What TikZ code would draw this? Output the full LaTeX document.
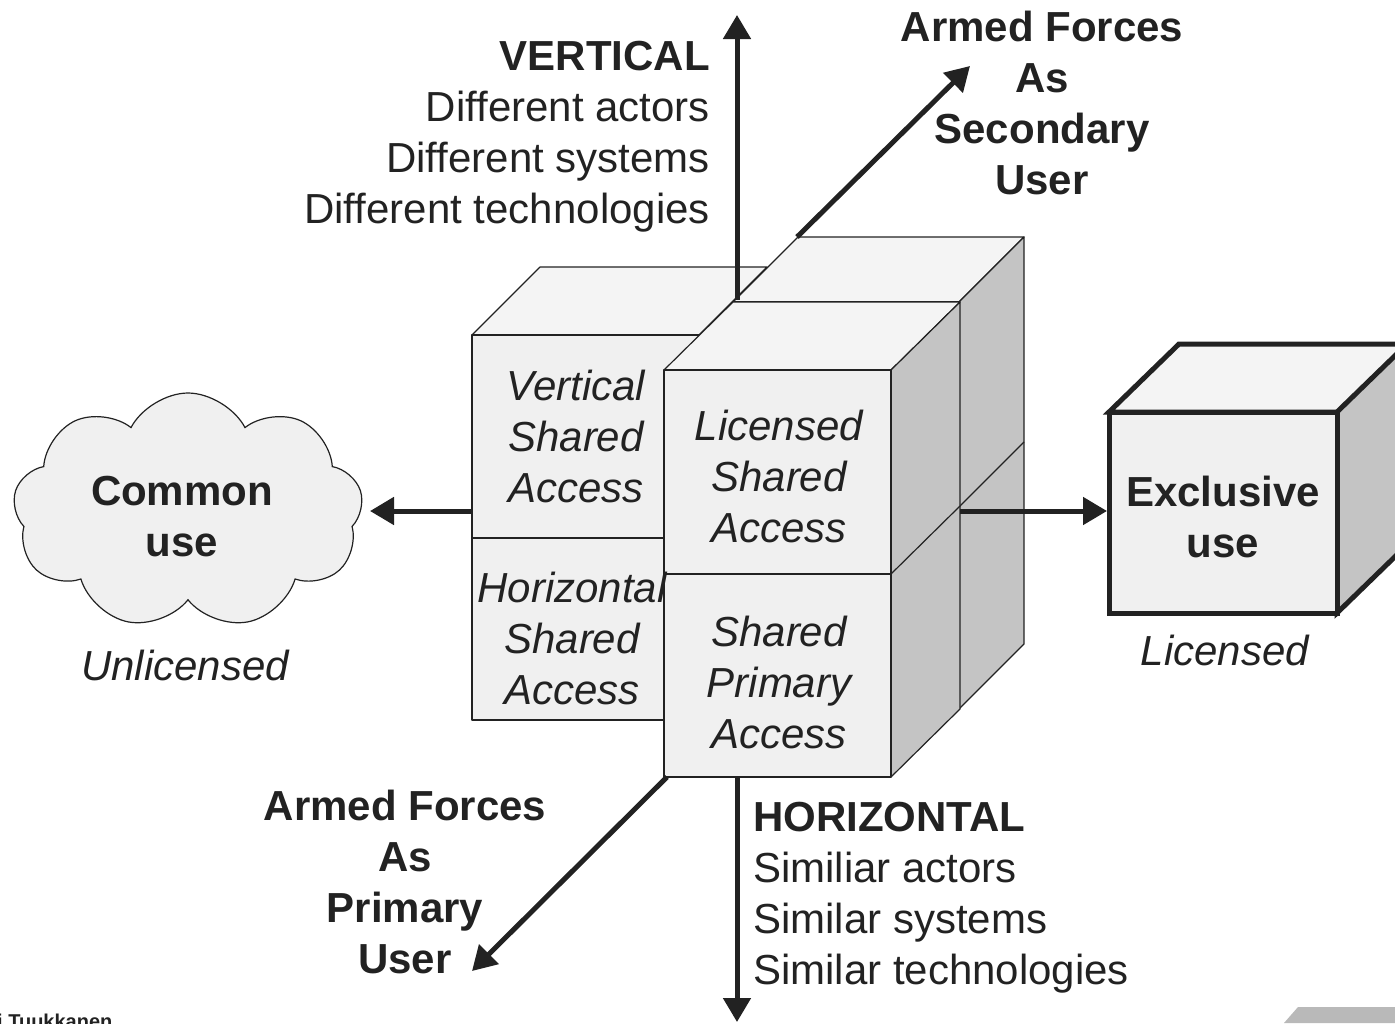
\documentclass[tikz,border=0pt]{standalone}
\usepackage{fontspec}
\setmainfont{Liberation Sans}
\usetikzlibrary{arrows.meta,shapes.symbols}

\definecolor{frontgray}{HTML}{F0F0F0}
\definecolor{topgray}{HTML}{F4F4F4}
\definecolor{sidegray}{HTML}{C4C4C4}
\definecolor{inkgray}{HTML}{222222}

\tikzstyle{face}=[draw=inkgray, line width=1.2, line join=round]
\tikzstyle{boxface}=[draw=inkgray, line width=5, line join=miter]
\tikzstyle{axis}=[draw=inkgray, line width=5, -{Triangle[length=24pt,width=27pt]}]
\tikzstyle{txt}=[inner sep=0, text=inkgray, align=center, font=\fontsize{42}{51}\selectfont]
\tikzstyle{boldtxt}=[txt, font=\fontsize{42}{51}\selectfont\bfseries]
\tikzstyle{ittxt}=[txt, font=\fontsize{42}{51}\selectfont\itshape]

% one column of two stacked cells: front x0..x1, top y0, middle ym, bottom y1, depth (dx,dy)
\newcommand{\drawcolumn}[7]{
  \draw[face, fill=topgray] (#1,#3) -- ++(#6,#7) -- ++(#2-#1,0) -- (#2,#3) -- cycle;
  \draw[face, fill=sidegray] (#2,#3) -- ++(#6,#7) -- ++(0,#5-#3) -- (#2,#5) -- cycle;
  \draw[face] (#2,#4) -- ++(#6,#7);
  \draw[face, fill=frontgray] (#1,#3) rectangle (#2,#4);
  \draw[face, fill=frontgray] (#1,#4) rectangle (#2,#5);
}

\begin{document}
\begin{tikzpicture}[x=1pt, y=-1pt]
  \useasboundingbox (0,0) rectangle (1395,1023);
  \clip (0,0) rectangle (1395,1023);

  % block corners and axis ends
  \coordinate (vtop) at (737,300);
  \coordinate (vtoptip) at (737,15);
  \coordinate (vbot) at (737,777);
  \coordinate (vbottip) at (737,1022);
  \coordinate (dtop) at (797,237);
  \coordinate (dtoptip) at (970,66);
  \coordinate (dbot) at (667,777);
  \coordinate (dbottip) at (472,971);
  \coordinate (hleft) at (472,511);
  \coordinate (hlefttip) at (370,511);
  \coordinate (hright) at (960,511);
  \coordinate (hrighttip) at (1107,511);

  % back left column
  \draw[face, fill=topgray] (472,335) -- (540,267) -- (767,267) -- (699,335) -- cycle;
  \draw[face, fill=frontgray] (472,335) rectangle (699,538);
  \draw[face, fill=frontgray] (472,538) rectangle (699,720);

  % back right column, then front column
  \drawcolumn{733}{959}{302}{507}{709}{65}{-65}
  \drawcolumn{664}{891}{370}{574}{777}{69}{-68}

  % axes
  \draw[axis] (vtop) -- (vtoptip);
  \draw[axis] (vbot) -- (vbottip);
  \draw[axis] (dtop) -- (dtoptip);
  \draw[axis] (dbot) -- (dbottip);
  \draw[axis] (hleft) -- (hlefttip);
  \draw[axis] (hright) -- (hrighttip);

  % common use cloud
  \node[cloud, cloud puffs=9, cloud puff arc=125, aspect=1.5, draw=inkgray, line width=1.2,
        fill=frontgray, minimum width=350, minimum height=236, inner sep=0] (cloud) at (188,511) {};
  \node[boldtxt] (common) at (182,517) {Common\\use};
  \node[ittxt] (unlic) at (185,665) {Unlicensed};

  % exclusive use box
  \draw[boxface, fill=topgray] (1109,412) -- (1179,344) -- (1409,344) -- (1339,412) -- cycle;
  \draw[boxface, fill=sidegray] (1337,412) -- (1407,344) -- (1407,545) -- (1337,613) -- cycle;
  \draw[boxface, fill=frontgray] (1109,412) rectangle (1337,613);
  \node[boldtxt] (excl) at (1223,517) {Exclusive\\use};
  \node[ittxt] (lic) at (1225,650) {Licensed};

  % cell texts
  \node[ittxt] (vsa) at (576,436) {Vertical\\Shared\\Access};
  \node[ittxt] (hsa) at (572,638) {Horizontal\\Shared\\Access};
  \node[ittxt] (lsa) at (779,476) {Licensed\\Shared\\Access};
  \node[ittxt] (spa) at (779,682) {Shared\\Primary\\Access};

  % axis labels
  \node[txt, align=right, anchor=east] (vert) at (710,137)
    {\textbf{VERTICAL}\\Different actors\\Different systems\\Different technologies};
  \node[txt, align=left, anchor=west] (horiz) at (753,898)
    {\textbf{HORIZONTAL}\\Similiar actors\\Similar systems\\Similar technologies};
  \node[boldtxt] (second) at (1042,103) {Armed Forces\\As\\Secondary\\User};
  \node[boldtxt] (primary) at (405,882) {Armed Forces\\As\\Primary\\User};

  % page footer bits
  \node[inner sep=0, anchor=base west, text=inkgray, font=\fontsize{20}{24}\selectfont\bfseries]
    (author) at (-3,1028) {i Tuukkanen};
  \fill[gray!55] (1284,1023) -- (1298,1007) -- (1395,1007) -- (1395,1023) -- cycle;
\end{tikzpicture}
\end{document}
